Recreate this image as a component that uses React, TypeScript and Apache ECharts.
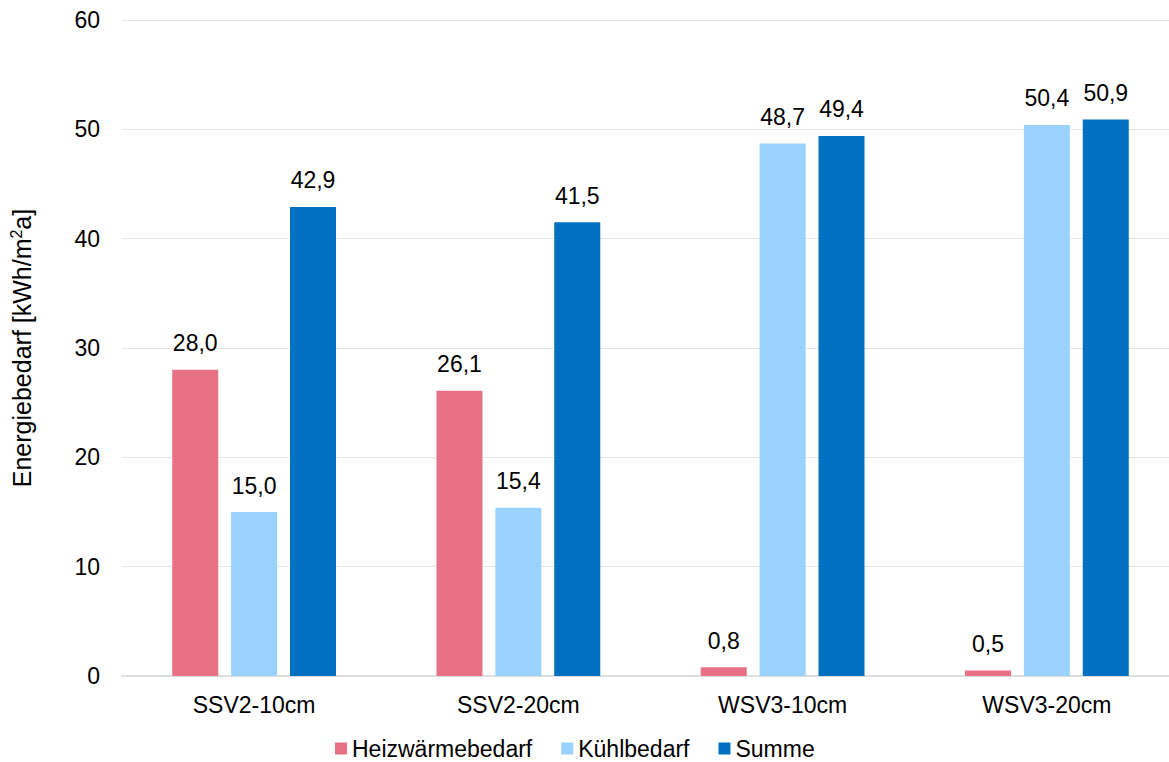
import React, { useEffect, useRef } from "react";
import * as echarts from "echarts";

const categories = ["SSV2-10cm", "SSV2-20cm", "WSV3-10cm", "WSV3-20cm"];
const heizwaerme = [28.0, 26.1, 0.8, 0.5];
const kuehl = [15.0, 15.4, 48.7, 50.4];
const summe = [42.9, 41.5, 49.4, 50.9];
const yTicks = { min: 0, max: 60, interval: 10 };

const FONT = '"Liberation Sans", Arial, sans-serif';

const fmt = (v: number) => v.toFixed(1).replace(".", ",");

function barSeries(name: string, data: number[], color: string) {
  return {
    name,
    type: "bar",
    data,
    barWidth: 46,
    barGap: "28%",
    itemStyle: { color },
    label: {
      show: true,
      position: "top",
      distance: 15,
      color: "#000",
      fontSize: 23,
      fontFamily: FONT,
      formatter: (p: any) => fmt(p.value),
    },
  };
}

export default function App() {
  const ref = useRef<HTMLDivElement>(null);

  useEffect(() => {
    if (!ref.current) return;
    const chart = echarts.init(ref.current, undefined, { renderer: "svg" });
    chart.setOption({
      animation: false,
      backgroundColor: "#fff",
      textStyle: { fontFamily: FONT },
      grid: { left: 120, right: 1, top: 20, bottom: 86, containLabel: false },
      legend: {
        left: 335,
        top: 737,
        padding: 0,
        itemWidth: 12,
        itemHeight: 12,
        itemGap: 29,
        icon: "rect",
        textStyle: { fontSize: 23, color: "#000", fontFamily: FONT },
        data: ["Heizwärmebedarf", "Kühlbedarf", "Summe"],
      },
      xAxis: {
        type: "category",
        data: categories,
        axisLine: { show: true, lineStyle: { color: "#D9D9D9", width: 1.5 } },
        axisTick: { show: false },
        axisLabel: { fontSize: 23, color: "#000", margin: 17, fontFamily: FONT },
      },
      yAxis: {
        type: "value",
        min: yTicks.min,
        max: yTicks.max,
        interval: yTicks.interval,
        name: "{t|Energiebedarf [kWh/m}{s|2}{t|a]}",
        nameLocation: "middle",
        nameGap: 86,
        nameRotate: 90,
        nameTextStyle: {
          fontSize: 25,
          color: "#000",
          fontFamily: FONT,
          rich: {
            t: { fontSize: 25, color: "#000", fontFamily: FONT, lineHeight: 28 },
            s: {
              fontSize: 16,
              color: "#000",
              fontFamily: FONT,
              verticalAlign: "top",
              lineHeight: 28,
              padding: [0, 0, 10, 0],
            },
          },
        },
        axisLine: { show: false },
        axisTick: { show: false },
        axisLabel: { fontSize: 23, color: "#000", margin: 22, fontFamily: FONT },
        splitLine: { lineStyle: { color: "#E6E6E6", width: 1 } },
      },
      series: [
        barSeries("Heizwärmebedarf", heizwaerme, "#E97185"),
        barSeries("Kühlbedarf", kuehl, "#99D1FF"),
        barSeries("Summe", summe, "#0070C0"),
      ],
    });
    return () => chart.dispose();
  }, []);

  return (
    <div
      ref={ref}
      style={{ position: "fixed", left: 0, top: 0, width: 1180, height: 762 }}
    />
  );
}
